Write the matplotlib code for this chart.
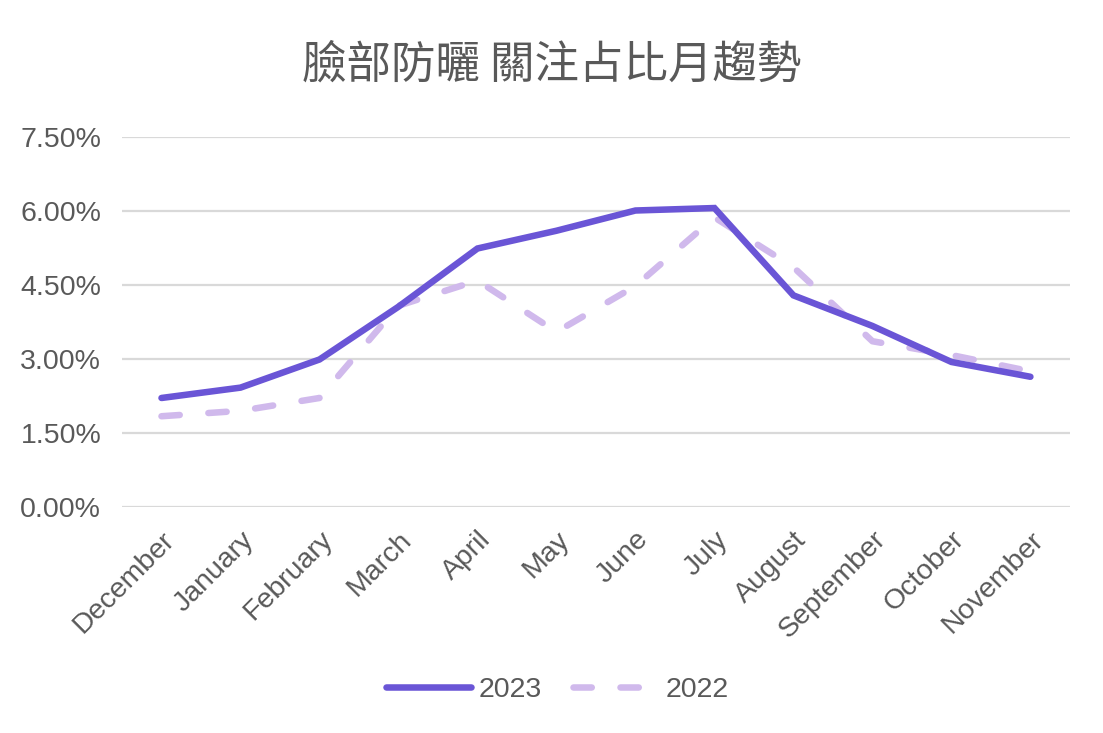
import matplotlib.pyplot as plt
from matplotlib.ticker import FuncFormatter

plt.rcParams['font.family'] = ['Arial', 'Liberation Sans', 'Noto Sans CJK TC', 'DejaVu Sans']

months = ['December', 'January', 'February', 'March', 'April', 'May',
          'June', 'July', 'August', 'September', 'October', 'November']
share_2023 = [2.21, 2.42, 2.99, 4.06, 5.24, 5.60, 6.01, 6.06, 4.29, 3.67, 2.94, 2.64]
share_2022 = [1.84, 1.95, 2.21, 4.08, 4.59, 3.55, 4.48, 5.87, 4.86, 3.36, 3.08, 2.75]
yticks = [0, 1.5, 3.0, 4.5, 6.0, 7.5]

grey = '#595959'
c23 = '#6A55D6'
c22 = '#D0B9EC'

fig = plt.figure(figsize=(11.03, 7.33), dpi=100)
ax = fig.add_axes([0.1106, 0.3083, 0.8594, 0.5048])

x = range(len(months))
ax.plot(x, share_2023, color=c23, lw=4.7, solid_capstyle='round',
        solid_joinstyle='miter', label='2023', zorder=3)
l22, = ax.plot(x, share_2022, color=c22, lw=4.7, dash_capstyle='round',
               label='2022', zorder=2)
l22.set_dashes([2.8, 4.4])

ax.set_xlim(-0.5, 11.5)
ax.set_ylim(0, 7.5)
ax.set_yticks(yticks)
ax.yaxis.set_major_formatter(FuncFormatter(lambda v, p: '%.2f%%' % v))
ax.set_xticks(list(x))
ax.set_xticklabels(months, rotation=45, ha='right', va='top',
                   rotation_mode='anchor')
ax.tick_params(axis='both', length=0, labelsize=20.5, labelcolor=grey)
ax.tick_params(axis='y', pad=15)
ax.tick_params(axis='x', pad=14)
ax.grid(axis='y', color='#D9D9D9', lw=1.6)
ax.set_axisbelow(True)
for s in ax.spines.values():
    s.set_visible(False)

fig.text(0.5, 0.912, '臉部防曬 關注占比月趨勢', ha='center', va='center',
         fontsize=32, color=grey, family=['Noto Sans CJK TC', 'DejaVu Sans'],
         fontweight='light')

leg = fig.legend(loc='center', bbox_to_anchor=(0.505, 0.059), ncol=2,
                 frameon=False, fontsize=20.5, handlelength=3.0,
                 columnspacing=1.1, handletextpad=0.25)
for t in leg.get_texts():
    t.set_color(grey)

fig.savefig('out.png', dpi=100)
